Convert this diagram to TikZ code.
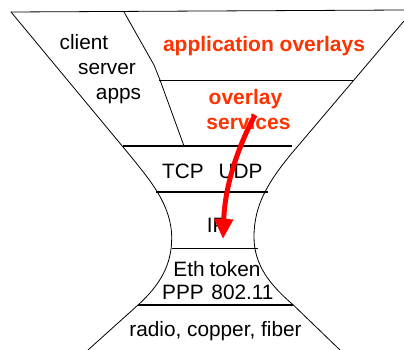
\documentclass[tikz,border=0pt]{standalone}
\usepackage{fontspec}
\setmainfont{Liberation Sans}
\usetikzlibrary{arrows.meta}
\definecolor{ovred}{RGB}{255,51,0}
\definecolor{arrred}{RGB}{255,0,0}
\tikzset{
  outline/.style={line width=0.8pt, black},
  layer/.style={line width=1.6pt, black},
  lbl/.style={anchor=base, inner sep=0pt, font=\fontsize{20.8}{25}\selectfont},
  olbl/.style={anchor=base, inner sep=0pt, text=ovred, font=\fontsize{21}{25}\selectfont\bfseries},
  flow/.style={arrred, line width=5pt, -{Triangle[length=20pt,width=18pt]}}
}
\begin{document}
\begin{tikzpicture}[x=1pt,y=-1pt]
\useasboundingbox (0,0) rectangle (404,350);
% hourglass outline
\draw[outline] (11,12) -- (404,10);
\draw[outline] (11,12) -- (128,153)
  .. controls (150,180) and (171.7,205) .. (171.7,238)
  .. controls (171.7,265) and (160,285) .. (138,305) -- (88,350);
\draw[outline] (404,21) -- (292,153)
  .. controls (268,182) and (254,205) .. (254,237)
  .. controls (254,265) and (270,285) .. (293.3,305) -- (340,350);
% split between client/server apps and overlays
\draw[outline] (124,12) -- (154,65) -- (160,80) -- (184,146);
% layer boundaries
\draw[layer] (159,80.7) -- (353,80.7);
\draw[layer] (123,145.7) -- (292,145.7);
\draw[layer] (155.7,191.7) -- (267.7,191.7);
\draw[layer] (171.7,248.3) -- (257.7,248.3);
\draw[layer] (138,305) -- (292.7,305);
% labels
\node[lbl] (client) at (84,50) {client};
\node[lbl] (server) at (107,75) {server};
\node[lbl] (apps) at (118.5,100) {apps};
\node[olbl] (appov) at (264,51.7) {application overlays};
\node[olbl] (ov) at (245.5,105) {overlay};
\node[olbl] (svc) at (248.5,130) {services};
\node[lbl] (tcp) at (183,178) {TCP};
\node[lbl] (udp) at (240.5,178) {UDP};
\node[lbl] (ip) at (216.7,232) {IP};
\node[lbl] (eth) at (189,276.5) {Eth};
\node[lbl] (token) at (235,276) {token};
\node[lbl] (ppp) at (183,299) {PPP};
\node[lbl] (wifi) at (242.5,299) {802.11};
\node[lbl] (phy) at (215.5,336.7) {radio, copper, fiber};
% overlay traffic carried down to IP
\coordinate (fstart) at (255,115);
\coordinate (fend) at (223,239);
\draw[flow] (fstart) .. controls (238,147) and (225,185) .. (fend);
\end{tikzpicture}
\end{document}
